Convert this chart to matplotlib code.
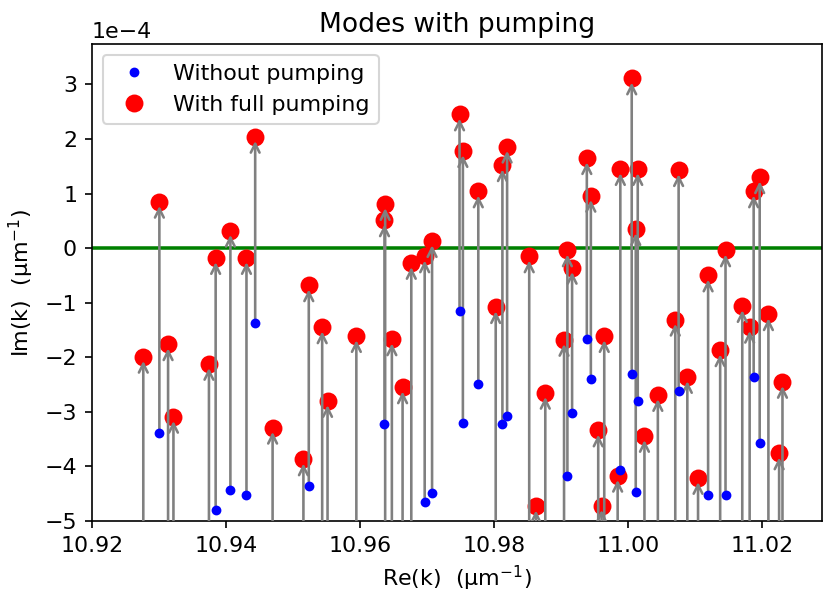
import numpy as np
import matplotlib
matplotlib.use('Agg')
import matplotlib.pyplot as plt
from matplotlib.patches import FancyArrowPatch

# Re(k) of each mode (um^-1)
re_k = [10.9277, 10.9301, 10.9314, 10.9322, 10.9375, 10.9385, 10.9407, 10.9431,
        10.9444, 10.9470, 10.9516, 10.9524, 10.9544, 10.9552, 10.9595, 10.9637,
        10.9638, 10.9648, 10.9664, 10.9677, 10.9697, 10.9708, 10.9749, 10.9754,
        10.9777, 10.9803, 10.9813, 10.9820, 10.9853, 10.9863, 10.9877, 10.9905,
        10.9910, 10.9917, 10.9939, 10.9945, 10.9956, 10.9961, 10.9965, 10.9985,
        10.9989, 11.0006, 11.0012, 11.0015, 11.0025, 11.0045, 11.0071, 11.0076,
        11.0089, 11.0105, 11.0120, 11.0138, 11.0146, 11.0171, 11.0182, 11.0188,
        11.0197, 11.0210, 11.0226, 11.0231]

# Im(k) without pumping, units of 1e-4 um^-1 (values below -5 are off the plot)
im_without = [-6.0, -3.39, -6.0, -6.0, -6.0, -4.80, -4.44, -4.52,
              -1.38, -6.0, -6.0, -4.35, -6.0, -6.0, -6.0, -3.22,
              -6.0, -6.0, -6.0, -6.0, -4.66, -4.49, -1.15, -3.21,
              -2.49, -6.0, -3.23, -3.08, -6.0, -6.0, -6.0, -6.0,
              -4.17, -3.02, -1.67, -2.39, -6.0, -6.0, -6.0, -6.0,
              -4.07, -2.30, -4.47, -2.80, -6.0, -6.0, -6.0, -2.61,
              -6.0, -6.0, -4.52, -6.0, -4.52, -6.0, -6.0, -2.37,
              -3.57, -6.0, -6.0, -6.0]

# Im(k) with full pumping, units of 1e-4 um^-1
im_with = [-1.99, 0.85, -1.76, -3.09, -2.12, -0.18, 0.32, -0.18,
           2.04, -3.29, -3.87, -0.68, -1.45, -2.80, -1.61, 0.51,
           0.81, -1.67, -2.55, -0.27, -0.15, 0.13, 2.45, 1.78,
           1.04, -1.08, 1.52, 1.86, -0.15, -4.73, -2.65, -1.68,
           -0.04, -0.36, 1.65, 0.96, -3.34, -4.72, -1.61, -4.17,
           1.45, 3.11, 0.35, 1.45, -3.44, -2.69, -1.31, 1.43,
           -2.36, -4.21, -0.50, -1.87, -0.04, -1.06, -1.44, 1.04,
           1.30, -1.21, -3.76, -2.45]

x = np.array(re_k)
y0 = np.array(im_without) * 1e-4
y1 = np.array(im_with) * 1e-4

plt.rcParams['font.size'] = 10.6

fig = plt.figure(figsize=(824 / 150, 592 / 150), dpi=150)
ax = fig.add_axes([91.7 / 824, 71 / 592, (822 - 91.7) / 824, (521 - 44) / 592])

ax.axhline(0, color='green', lw=1.7, zorder=1)
ax.plot(x, y0, 'o', color='blue', ms=3.7, label='Without pumping', zorder=4)
ax.plot(x, y1, 'o', color='red', ms=7.6, label='With full pumping', zorder=2)

# arrows from unpumped to pumped modes
for xi, a, b in zip(x, y0, y1):
    arr = FancyArrowPatch((xi, a), (xi, b), arrowstyle='->', mutation_scale=10.5,
                          color='gray', lw=1.25, zorder=3)
    ax.add_patch(arr)

ax.set_xlim(10.92, 11.029)
ax.set_ylim(-5e-4, 3.74e-4)
ax.set_xticks([10.92, 10.94, 10.96, 10.98, 11.00, 11.02])
ax.ticklabel_format(axis='y', style='sci', scilimits=(0, 0))
ax.set_title('Modes with pumping')
ax.set_xlabel('Re(k)  (μm$^{-1}$)')
ax.set_ylabel('Im(k)  (μm$^{-1}$)')
ax.legend(loc='upper left')

fig.savefig('out.png', dpi=150)
